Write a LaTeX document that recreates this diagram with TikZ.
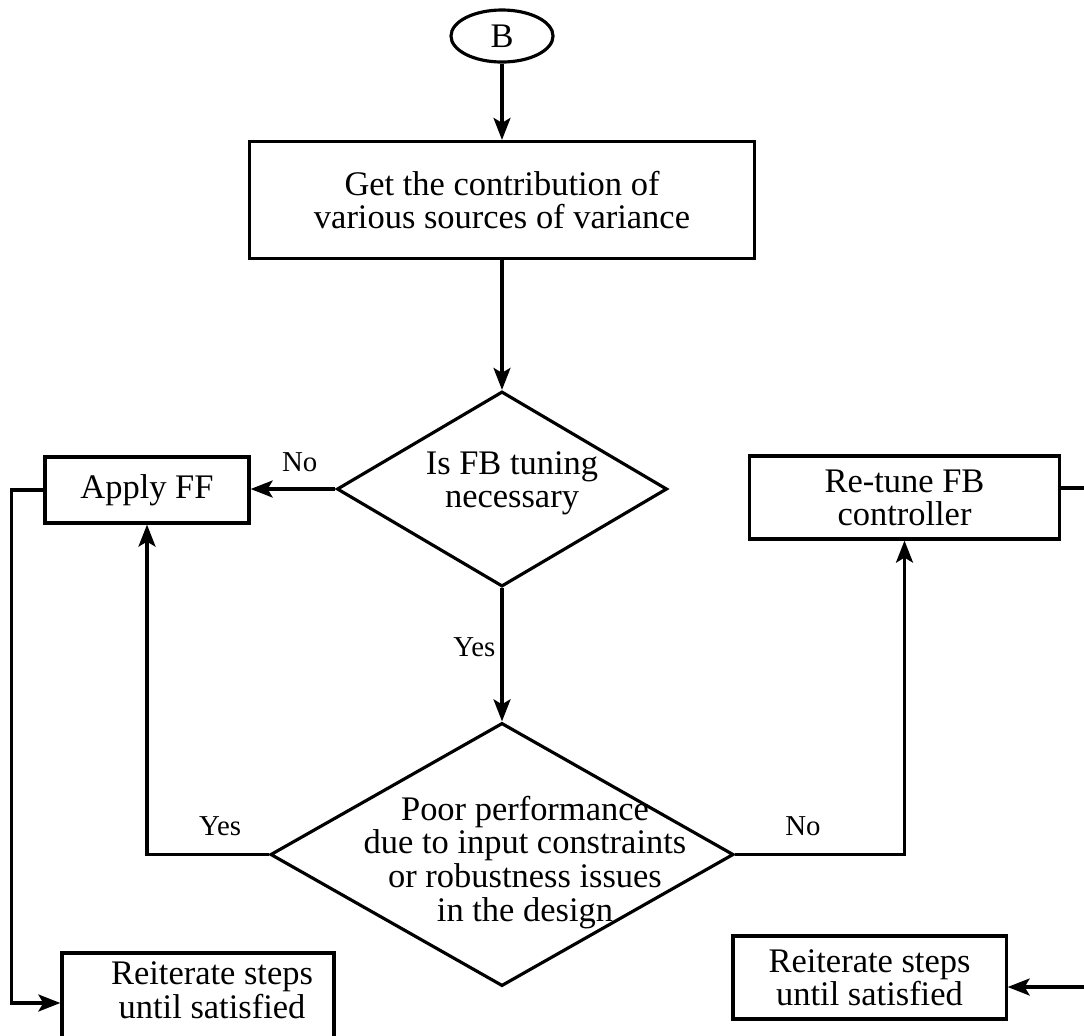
\documentclass[tikz,border=0pt]{standalone}
\usepackage{fontspec}
\setmainfont{Liberation Serif}
\usetikzlibrary{arrows.meta, positioning, shapes.geometric}
\newcommand{\freetext}[3]{\makebox[0pt]{\hspace*{#1}\raisebox{#2}[0pt][0pt]{\begin{tabular}{@{}c@{}}#3\end{tabular}}}}
\tikzset{
  connector/.style = {draw, ellipse, line width=0.9pt, inner sep=0pt,
                      font=\fontsize{9.8}{9.4}\selectfont,
                      minimum width=1.02cm, minimum height=0.52cm},
  stepbox/.style   = {draw, rectangle, line width=0.9pt, align=center,
                      inner sep=0pt, font=\fontsize{9.8}{9.4}\selectfont},
  decision/.style  = {draw, diamond, line width=0.9pt, inner sep=0pt,
                      font=\fontsize{9.8}{9.4}\selectfont},
  answer/.style    = {inner sep=0pt, font=\fontsize{8.2}{8}\selectfont},
  flow/.style      = {-{Stealth[length=0.22cm, width=0.17cm, inset=0.05cm]},
                      line width=0.9pt},
}
\begin{document}
\begin{tikzpicture}[x=0.01cm, y=-0.01cm]
  \path[use as bounding box, clip] (0,0) rectangle (1084,1035);
  \node[connector]                                                  (b)    at (502,36)     {B};
  \node[stepbox, minimum width=5.04cm, minimum height=1.17cm]       (src)  at (502,200)    {Get the contribution of\\various sources of variance};
  \node[decision, minimum width=3.30cm, minimum height=1.95cm]      (fb)   at (502,489)    {\freetext{0.2cm}{-0.045cm}{Is FB tuning\\necessary}};
  \node[stepbox, minimum width=2.04cm, minimum height=0.66cm]       (ff)   at (147,490)    {Apply FF};
  \node[stepbox, minimum width=3.09cm, minimum height=0.83cm]       (rt)   at (904.5,497.5) {Re-tune FB\\controller};
  \node[decision, minimum width=4.63cm, minimum height=2.63cm]      (perf) at (502,854.5)  {\freetext{0.46cm}{-0.18cm}{Poor performance\\due to input constraints\\or robustness issues\\in the design}};
  \node[stepbox, minimum width=2.72cm, minimum height=1.30cm]       (itl)  at (198,1018)   {\freetext{0.28cm}{0.14cm}{Reiterate steps\\until satisfied}};
  \node[stepbox, minimum width=2.73cm, minimum height=0.83cm]       (itr)  at (869.5,977.5) {Reiterate steps\\until satisfied};
  \draw[flow] (b.south) -- (src.north);
  \draw[flow] (src.south) -- (fb.north);
  \draw[flow] (fb.west) -- node[answer, above=0.16cm, pos=0.42] {No} (fb.west -| ff.east);
  \draw[flow] (fb.south) -- node[answer, left=0.05cm, pos=0.44] {Yes} (perf.north);
  \draw[flow] (perf.west) -| node[answer, above=0.17cm, pos=0.2] {Yes} (ff.south);
  \draw[flow] (perf.east) -| node[answer, above=0.17cm, pos=0.2] {No} (rt.south);
  \draw[flow] ([yshift=0.095cm]rt.east) -- ++(40,0) |- ([yshift=-0.095cm]itr.east);
  \draw[flow] (ff.west) -- ++(-32,0) |- ([yshift=0.15cm]itl.west);
\end{tikzpicture}
\end{document}
